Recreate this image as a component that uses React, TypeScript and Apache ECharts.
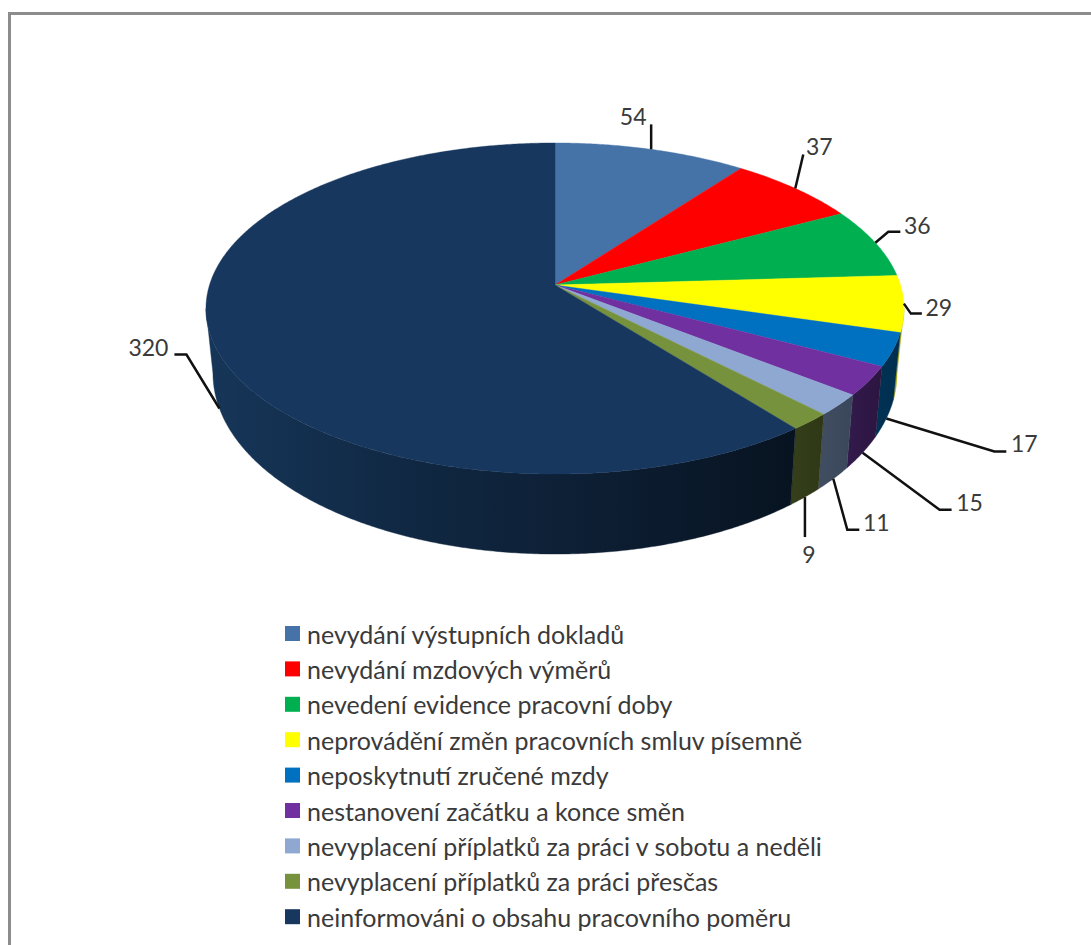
import React, { useEffect, useRef } from "react";
import * as echarts from "echarts";

const categories = [
  "nevydání výstupních dokladů",
  "nevydání mzdových výměrů",
  "nevedení evidence pracovní doby",
  "neprovádění změn pracovních smluv písemně",
  "neposkytnutí zručené mzdy",
  "nestanovení začátku a konce směn",
  "nevyplacení příplatků za práci v sobotu a neděli",
  "nevyplacení příplatků za práci přesčas",
  "neinformováni o obsahu pracovního poměru",
];
const values = [54, 37, 36, 29, 17, 15, 11, 9, 320];
const topColors = ["#4572A7", "#FF0000", "#00B050", "#FFFF00", "#0070C0", "#7030A0", "#8FA8D2", "#76923C", "#17375E"];
const wallColors: string[][] = [
  ["#22395a", "#22395a"],
  ["#800000", "#800000"],
  ["#005828", "#005828"],
  ["#a8a810", "#a8a810"],
  ["#003356", "#002d4d"],
  ["#321a4c", "#2c1540"],
  ["#414e62", "#3a475b"],
  ["#353f1a", "#2f3816"],
  ["#163659", "#102843", "#0d1e33", "#071320"],
];
// leader elbows relative to the point on the pie's edge, then the label centre relative to the leader's end
const leaderPaths: number[][][] = [
  [[0, -25]],
  [[8, -34]],
  [[13, -11], [25, -11]],
  [[7, 10], [18, 10]],
  [[108, 33], [120, 33]],
  [[77, 57], [89, 57]],
  [[14, 51], [26, 51]],
  [[0, 40]],
  [[-33, -54], [-45, -54]],
];
const labelOffsets = [[-18, -8], [16, -8], [17, -7], [17, -7], [18, -8], [18, -8], [17, -8], [4, 17], [-26, -8]];

const FONT = "Lato";
const TEXT = "#3a3a3a";

const CX = 555;
const APEX_Y = 285;
const A = 345.5;
const B = 162.2;
const K = 0.142;
const SHRINK = 0.98;

const total = values.reduce((s, v) => s + v, 0);
const toAngle = (v: number) => (v / total) * Math.PI * 2;

const topPoint = (t: number) => {
  const X = Math.sin(t);
  const Y = -Math.cos(t);
  const d = 1 - K * Y;
  return [CX + (A * X) / d, APEX_Y + (B * Y) / d];
};
const bottomPoint = (t: number) => {
  const Y = -Math.cos(t);
  const [x, y] = topPoint(t);
  return [CX + (x - CX) * SHRINK, y + 62 + 18 * Y];
};
const arc = (f: (t: number) => number[], a: number, b: number) => {
  const n = Math.max(2, Math.ceil((b - a) / 0.008));
  const pts: number[][] = [];
  for (let i = 0; i <= n; i++) pts.push(f(a + ((b - a) * i) / n));
  return pts;
};

// the wall is seen only between the two tangent points of the silhouette
const VIS_A = (98.2 / 180) * Math.PI;
const VIS_B = (261.8 / 180) * Math.PI;

function makeSeries() {
  let cum = 0;
  return values.map((v, i) => {
    const start = toAngle(cum);
    cum += v;
    const end = toAngle(cum);
    return {
      type: "custom",
      name: categories[i],
      coordinateSystem: "none",
      silent: true,
      data: [[v]],
      renderItem: () => {
        const children: any[] = [];
        const wa = Math.max(start, VIS_A);
        const wb = Math.min(end, VIS_B);
        if (wb > wa) {
          const t = arc(topPoint, wa, wb);
          const bt = arc(bottomPoint, wa, wb).reverse();
          const all = [...t, ...bt].map((p) => p[0]);
          const stops = wallColors[i].map((color, j, list) => ({ offset: j / (list.length - 1), color }));
          const fill = new echarts.graphic.LinearGradient(Math.min(...all), 0, Math.max(...all), 0, stops, true);
          children.push({
            type: "polygon",
            z2: 1,
            shape: { points: [...t, ...bt] },
            style: { fill, stroke: fill, lineWidth: 0.4 },
          });
        }
        children.push({
          type: "polygon",
          z2: 10,
          shape: { points: [[CX, APEX_Y], ...arc(topPoint, start, end)] },
          style: { fill: topColors[i], stroke: topColors[i], lineWidth: 0.4 },
        });
        const mid = (start + end) / 2;
        const anchor = -Math.cos(mid) > 0.2 ? bottomPoint(mid) : topPoint(mid);
        const pts = [anchor, ...leaderPaths[i].map((o) => [anchor[0] + o[0], anchor[1] + o[1]])];
        children.push({
          type: "polyline",
          z2: 20,
          shape: { points: pts },
          style: { fill: "none", stroke: "#111111", lineWidth: 2.5 },
        });
        const last = pts[pts.length - 1];
        children.push({
          type: "text",
          z2: 21,
          style: {
            text: String(v),
            x: last[0] + labelOffsets[i][0],
            y: last[1] + labelOffsets[i][1],
            fill: TEXT,
            font: `23px ${FONT}`,
            align: "center",
            verticalAlign: "middle",
          },
        });
        return { type: "group", children };
      },
    };
  });
}

export default function App() {
  const ref = useRef<HTMLDivElement>(null);
  useEffect(() => {
    const chart = echarts.init(ref.current!, undefined, { renderer: "svg" });
    chart.setOption({
      animation: false,
      backgroundColor: "#ffffff",
      graphic: [
        { type: "rect", shape: { x: 8, y: 12, width: 1083, height: 3 }, style: { fill: "#8c8c8c" } },
        { type: "rect", shape: { x: 8, y: 12, width: 3, height: 933 }, style: { fill: "#8c8c8c" } },
      ],
      legend: {
        orient: "vertical",
        left: 285,
        top: 621,
        padding: 0,
        itemWidth: 15,
        itemHeight: 15,
        itemGap: 10.4,
        selectedMode: false,
        textStyle: { fontFamily: FONT, fontSize: 25, color: TEXT, padding: [0, 0, 0, 2] },
        data: categories.map((name, i) => ({
          name,
          icon: "rect",
          itemStyle: { color: topColors[i] },
        })),
      },
      series: makeSeries(),
    });
    return () => chart.dispose();
  }, []);
  return (
    <div
      ref={ref}
      style={{ position: "absolute", left: 0, top: 0, width: 1091, height: 945 }}
    />
  );
}
